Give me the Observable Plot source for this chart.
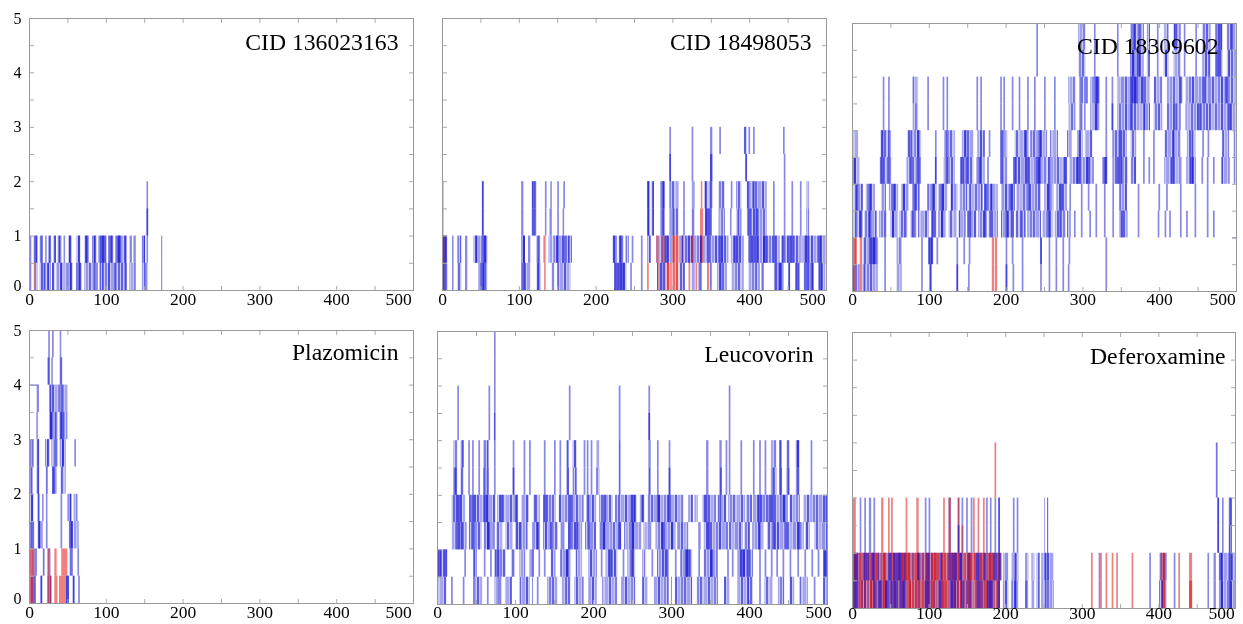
<!DOCTYPE html>
<html><head><meta charset="utf-8">
<script src="https://cdn.jsdelivr.net/npm/d3@7"></script>
<script src="https://cdn.jsdelivr.net/npm/@observablehq/plot@0.6"></script>
<style>html,body{margin:0;background:#fff}#c{position:relative;width:1243px;height:624px;overflow:hidden}#c svg.plot{position:absolute;overflow:visible;background:none;filter:blur(.6px)}#defs{position:absolute;width:0;height:0}</style>
</head><body><div id="c"></div>
<script>
// Each array: frames (single number) or frame runs [from,to] occupied in one half-unit band of the y axis.
// pNbK = panel N, band K (K*0.5 .. K*0.5+0.5); L blue, D dark blue, R red, P pale red.
const titles=["CID 136023163","CID 18498053","CID 18309602","Plazomicin","Leucovorin","Deferoxamine"];
const xTickLabels=[0,100,200,300,400];
const yTickLabels=[1,2,3,4,5];

const p1b0L=[[1,3],[6,11],[14,28],[30,33],[35,57],[61,69],[72,90],[92,127],[131,139],[147,154],[172,173.5]];
const p1b0D=[19,24,30,41,53,64,84,95,111,120,125,[150,151],[152,153]];
const p1b0R=[[7,9]];
const p1b1L=[[1,3],[6,11],[14,18],[21,23],[25,29],[32,35],[37,42],[45,47],[51,56],[62,67],[72,78],[82,88],[90,101],[103,110],[112,127],[131,134],[136,139],[147,151],[153,155],[172,173.5]];
const p1b1D=[[7,10],15,[26,28],33,39,[52,54],[64,66],[74,77],84,[92,100],[105,108],[114,120],[124,127],149];
const p1b2L=[[153,155]];
const p1b2D=[[0,1.2],153];
const p1b3L=[[153,155]];

const p2b0L=[[0,7],[13,15],[20,25],[30,33],[47,59],[103,115],[123,128],[143,146],[150,167],[224,240],245,259,[280,291],[309,316],[325,329],[358,371],[377,393],[399,414],[432,445],451,[460,466],[471,484],[490,499]];
const p2b0D=[[1,6],[50,52],[53,57],[105,108],[124,127],[226,238],[284,287],314,334,336,349,[361,364],[416,419],[433,436],[438,443],451,[462,465],[474,478],[480,483],[491,495]];
const p2b0R=[[1,3],[133,135],267,[280,282],321,330,[345,348]];
const p2b0P=[[291,308]];
const p2b1L=[[0,7],[13,15],[20,25],[30,33],[41,59],[103,108],[112,115],[123,128],[139,144],[145,169],[222,228],[230,236],[239,243],247,259,[267,272],[279,302],[309,373],[376,393],[399,440],[443,500]];
const p2b1D=[[1,6],[44,46],[53,58],[105,108],[124,127],[149,152],[156,160],[164,166],[223,226],[232,235],[270,271],[290,294],[312,314],[320,323],[336,338],[345,348],[360,366],[380,386],[401,412],[418,424],[432,436],[442,446],[452,458],[472,478],[490,494]];
const p2b1R=[[1,5],[132,135],[279,282],[287,290],[300,303],[312,314],[324,328],[336,340]];
const p2b1P=[[302,309]];
const p2b2L=[52,[103,106],[117,123],[134,136],[140,143],150,[157,159],[267,271],[273,276],[284,290],[296,308],314,[325,329],[342,351],[360,368],[375,377],[383,390],[397,423],431,445,455,466,[474,478]];
const p2b2D=[52,[118,122],[268,270],[274,276],[286,289],[300,302],[343,351],[385,387],[398,402],[408,412]];
const p2b2R=[[0,2],[336,340]];
const p2b3L=[52,[103,106],[117,123],134,[141,143],150,158,[267,271],[273,276],[284,290],[296,308],314,[325,329],[342,351],[360,368],376,[383,390],[397,423],431,445,455,466,[474,478]];
const p2b3D=[52,[118,122],[268,270],[274,276],[286,289],[342,344],[349,352],[398,400],[405,407]];
const p2b3R=[[0,2],[337,339]];
const p2b4L=[296,325,[349,352],[395,397],445];
const p2b4D=[296,[349,352],395];
const p2b5L=[296,325,[349,352],361,[393,397],399,405,444];

const p3b0L=[[0,10],[14,34],42,[58,65],90,[101,104],136,151,200,209,221,245,256,265,274,281,330];
const p3b0D=[[2,3],[15,17],[101,103],136,200];
const p3b0R=[[0,4],[10,13],[182,185],[186,189]];
const p3b1L=[[0,3],[14,34],42,[58,65],90,[99,106],110,136,145,152,200,208,221,245,256,265,274,282,330];
const p3b1D=[[22,32],[100,104],245];
const p3b1R=[[3,6],[3,6],[10,13],[182,185],[186,189]];
const p3b2L=[[0,14],[16,32],[35,45],[50,60],[62,72],[76,84],[86,100],[103,110],[112,122],[126,136],[140,148],[150,162],[164,176],[178,190],[194,210],[213,226],[228,246],[248,262],[264,278],[280,285],289,298,309,317,328,339,[348,359],372,398,407,413,427,435,446,462,470];
const p3b2D=[[4,6],[10,13],[22,25],[52,55],[68,70],[78,81],[104,107],[116,119],[139,141],[152,155],[171,175],[179,181],[200,203],[207,211],[219,222],[255,258],[270,273],[350,353]];
const p3b3L=[[2,14],[18,30],[38,44],[48,60],[64,74],[78,88],[98,110],[112,124],[128,137],[140,150],[154,170],[172,190],[194,212],[214,228],[230,246],[250,262],[266,280],283,298,307,317,328,339,[348,358],372,399,409,427,446,462];
const p3b3D=[[5,8],[22,25],[53,56],[66,69],[80,84],[104,107],[116,120],[129,131],[152,155],[172,176],[181,183],[205,210],[228,231],[254,258],[270,274]];
const p3b4L=[[1,10],[36,51],[71,90],108,[119,134],[141,158],[162,173],176,[193,202],[210,254],[256,280],[283,315],[326,333],[339,359],[363,370],379,386,392,[407,429],[435,448],455,462,470,[481,492],497];
const p3b4D=[[2,5],[37,41],[46,49],[75,78],[84,88],[108,110],[122,125],[143,146],[148,152],[165,168],[194,197],[210,214],[225,230],[240,246],[255,258],[276,280],[293,298],[305,310],[328,331],[345,352],[415,419],[440,444]];
const p3b5L=[[1,8],[37,51],[72,90],108,[120,134],[143,158],[163,173],178,[193,202],[212,230],[232,254],[258,268],[280,286],[293,300],[303,313],330,[339,358],[363,370],379,392,[407,428],[436,447],456,463,[482,491],497];
const p3b5D=[[38,41],[47,49],[76,78],[85,88],[122,124],[146,149],[167,169],[195,197],[225,228],[243,246],[295,298],[347,352],[418,420],[442,444]];
const p3b6L=[40,47,[79,86],98,118,123,162,167,193,197,208,217,228,237,250,263,[282,291],296,302,[310,322],330,338,[345,388],[393,404],[410,428],[434,500]];
const p3b6D=[[298,300],[316,320],338,[362,365],[380,382],[421,423],[452,455],[465,467],[490,493]];
const p3b7L=[40,47,[79,86],98,118,123,162,167,193,197,208,217,228,237,250,263,[282,291],296,302,[310,322],330,338,[345,388],[393,404],[410,428],[434,500]];
const p3b7D=[[298,301],[304,307],[316,322],[362,372],[376,380],[426,430],[458,461],[486,490]];
const p3b8L=[240,[295,304],315,345,[362,380],[384,388],397,[406,412],[419,428],432,447,[456,467],[473,482],[488,500]];
const p3b8D=[[364,368],[371,375],[408,410],[464,466],[474,481],[490,492]];
const p3b9L=[240,[295,304],315,345,[362,380],[384,388],397,[406,412],[419,428],432,447,[456,467],[473,482],[488,500]];
const p3b9D=[[366,369],[373,376],[420,423],[476,481],[494,496]];

const p4b0L=[[1,6],15,[24,29],[48,52],57,64];
const p4b0D=[[6,9],15,[48,52],57];
const p4b0R=[[0,7],[24,29],[33,37],[39,48]];
const p4b1L=[[0,8],[24,28],63];
const p4b1D=[8,18,[53,57]];
const p4b1R=[[1,7],[24,27],[33,36],[42,50]];
const p4b2L=[[0,7],[11,18],22,41,[52,57],[58,65]];
const p4b2D=[[2,4],[13,15],[53,57]];
const p4b3L=[[1,6],[11,14],[17,19],[22,24],41,[50,55],[58,63]];
const p4b3D=[[3,5],[12,13],[53,55]];
const p4b4L=[[1,5],[10,13],[22,24],[30,36],[41,48]];
const p4b4D=[[2,4],11,[23,24],[32,34]];
const p4b5L=[[0,6],[10,13],[21,27],[29,37],[40,48],59];
const p4b5D=[[2,3],11,[24,25],[33,35],[43,45]];
const p4b6L=[[10,11],[26,37],[39,50]];
const p4b6D=[[10,11],[27,31],[34,36],[41,46]];
const p4b7L=[[10,13],[26,50]];
const p4b7D=[[27,29],[40,41],[44,45]];
const p4b8L=[[24,26],[29,31],[40,42]];
const p4b8D=[25,41];
const p4b9L=[25,30,[40,42]];

const p5b0L=[[0,12],18,33,[46,58],64,[74,83],[87,96],[106,119],128,[141,154],[160,171],[176,188],[194,205],[212,231],[236,254],[263,270],[278,297],[305,327],[333,360],[368,375],[385,405],413,[420,430],[437,445],[452,458],[465,475],483,[495,501]];
const p5b0D=[[47,48],[78,79],[122,123],[165,166],[300,301],[398,400]];
const p5b1L=[[0,13],35,[46,51],60,68,[74,88],[95,100],[106,113],[118,124],130,137,[146,152],[158,171],[178,186],[194,205],210,[216,231],238,[244,254],[263,267],275,[282,297],305,[312,327],335,[342,360],372,378,[385,405],413,420,428,435,443,452,462,471,480,488,[495,501]];
const p5b1D=[[1,5],[8,12],[47,49],[76,80],[122,124],[165,169],[220,225],[248,252],[292,296],[318,325],[350,354],[388,395],[397,402],[495,500]];
const p5b1R=[[0,2]];
const p5b2L=[[19,38],[41,57],[60,72],[76,84],[88,97],[100,116],[122,132],[136,155],[158,164],[168,186],[190,204],[208,236],[240,262],[265,275],[280,306],[308,322],[335,338],[342,370],[374,392],[394,401],[404,419],[423,445],[447,470],[472,478],[484,500]];
const p5b2D=[[25,27],[30,34],[44,48],[64,68],[72,74],[105,108],[128,131],[145,148],[168,172],[178,181],[193,196],[212,216],[232,236],[249,253],[288,292],[300,303],[345,350],[370,373],[412,415],[430,434],[445,449],[462,466]];
const p5b3L=[[19,36],[41,75],[77,104],[108,118],[125,132],[136,152],[156,188],[192,204],[208,225],[228,256],[260,266],[270,316],[322,328],[330,334],[340,358],[360,371],[373,395],[396,404],[405,450],[452,465],[470,500]];
const p5b3D=[[24,30],[44,50],[60,66],[80,84],[100,103],[124,126],[138,142],[170,174],[192,195],[213,217],[248,254],[262,264],[282,286],[296,300],[342,347],[362,364],[412,417],[425,432],[443,447],[498,500]];
const p5b4L=[[21,26],[30,34],40,45,53,[59,66],73,97,111,118,137,150,157,[166,169],[174,179],188,192,197,[204,208],[233,235],[271,274],282,297,[345,348],[362,365],370,374,389,405,413,420,[428,435],[439,442],[448,452],[460,465],479];
const p5b4D=[[22,24],[31,33],[60,62],[64,66],97,[167,169],[234,235],[272,273],297,[363,365],[430,433],[439,442],[449,451],[461,464]];
const p5b5L=[[21,26],[30,34],40,45,53,[59,66],73,97,111,118,137,150,157,[166,169],[174,179],188,192,197,[204,208],[233,235],[271,274],282,297,[345,348],[362,365],370,374,389,405,413,420,[428,435],[439,442],[448,452],[460,465],479];
const p5b5D=[32,[167,168],[234,235],[439,441],[461,464]];
const p5b6L=[26,66,[73,74],169,233,271,374];
const p5b6D=[73,271];
const p5b7L=[26,66,73,169,233,271,374];
const p5b8L=[73];
const p5b9L=[73];

const p6b0L=[[0,193],[197,204],[208,217],[226,230],[234,238],[241,245],[247,263],322,388,[401,411],420,464,[472,475],[479,500]];
const p6b0D=[[1,8],[16,18],[28,32],[34,39],[43,48],[50,53],[54,60],[62,70],[95,101],[113,117],[128,136],[142,146],[152,155],[163,168],[176,184],[190,193],[212,215],[226,228],[252,254],[404,406],[481,484],[492,496]];
const p6b0R=[[9,11],[24,27],[40,43],[73,77],[82,86],[95,102],[120,124],[133,136],[150,153],[172,176],[189,193],312,324,331,339,345,365,[404,409],[404,409],426,[440,444],[440,444]];
const p6b0P=[[0,193]];
const p6b1L=[[0,193],[197,204],[208,217],[226,230],[234,238],[241,245],[247,263],322,388,[401,411],420,464,[472,475],[479,500]];
const p6b1D=[[3,8],[15,17],[18,22],[26,29],[33,35],[47,52],[54,65],[68,70],[85,88],[97,101],[115,117],[126,129],[131,137],[140,144],[152,154],[162,167],[172,175],[184,189],[191,195],[212,214],[252,254],[480,483],[492,496]];
const p6b1R=[[1,8],[15,17],[24,29],[41,44],[60,63],[68,75],[83,89],[96,102],[106,113],[119,123],[130,137],[150,155],[170,172],[178,182],[191,195],312,324,331,339,345,365,[403,410],426,[440,444]];
const p6b1P=[[0,193]];
const p6b2L=[10,16,[22,25],28,95,100,[126,129],138,143,149,155,175,180,186,[191,193],210,215,[251,252],[255,256],477,483,492,[492,496]];
const p6b2D=[[191,193],138,[255,256],477];
const p6b2R=[[0,5],[38,41],47,51,70,[84,87],119,[126,129],138,143,158,164,171];
const p6b3L=[10,16,[22,25],28,95,100,[126,129],138,143,149,155,175,180,186,[191,193],210,215,[251,252],[255,256],477,483,492,[492,496]];
const p6b3D=[[191,193],[255,256],477];
const p6b3R=[[0,5],[38,41],47,51,70,[84,87],119,[126,129],138,158,164,171];
const p6b4D=[475];
const p6b4R=[186];
const p6b5D=[475];
const p6b5R=[186];

const steps3=[[1,495,500]];
const steps4=[[4,0,11],[3,0,6],[1,0,1]];

const panels=[
 {left:29,right:413,top:18,bottom:290,title:0,tdx:-15,tdy:24,y:true,ldy:-2,ldx5:-15,steps:[],bands:[[p1b0L,p1b0D,p1b0R],[p1b1L,p1b1D],[p1b2L,p1b2D],[p1b3L]]},
 {left:442,right:826,top:18,bottom:290,title:1,tdx:-15,tdy:24,ldy:-2,ldx5:-14,steps:[],bands:[[p2b0L,p2b0D,p2b0R,p2b0P],[p2b1L,p2b1D,p2b1R,p2b1P],[p2b2L,p2b2D,p2b2R],[p2b3L,p2b3D,p2b3R],[p2b4L,p2b4D],[p2b5L]]},
 {left:852,right:1236,top:23,bottom:291,title:2,tdx:-18,tdy:23,ldy:-3,ldx5:-14,steps:steps3,bands:[[p3b0L,p3b0D,p3b0R],[p3b1L,p3b1D,p3b1R],[p3b2L,p3b2D],[p3b3L,p3b3D],[p3b4L,p3b4D],[p3b5L,p3b5D],[p3b6L,p3b6D],[p3b7L,p3b7D],[p3b8L,p3b8D],[p3b9L,p3b9D]]},
 {left:29,right:413,top:330,bottom:603,title:3,tdx:-15,tdy:22,y:true,ldy:-2,ldx5:-15,steps:steps4,bands:[[p4b0L,p4b0D,p4b0R],[p4b1L,p4b1D,p4b1R],[p4b2L,p4b2D],[p4b3L,p4b3D],[p4b4L,p4b4D],[p4b5L,p4b5D],[p4b6L,p4b6D],[p4b7L,p4b7D],[p4b8L,p4b8D],[p4b9L]]},
 {left:437,right:827,top:331,bottom:604,title:4,tdx:-14,tdy:23,ldy:-3,ldx5:-9,steps:[],bands:[[p5b0L,p5b0D],[p5b1L,p5b1D,p5b1R],[p5b2L,p5b2D],[p5b3L,p5b3D],[p5b4L,p5b4D],[p5b5L,p5b5D],[p5b6L,p5b6D],[p5b7L],[p5b8L],[p5b9L]]},
 {left:852,right:1235,top:332,bottom:608,title:5,tdx:-10,tdy:24,ldy:-6,ldx5:-14,steps:[],bands:[[p6b0L,p6b0D,p6b0R,p6b0P],[p6b1L,p6b1D,p6b1R,p6b1P],[p6b2L,p6b2D,p6b2R],[p6b3L,p6b3D,p6b3R],[[],p6b4D,p6b4R],[[],p6b5D,p6b5R]]}
];

// line-texture fills for dense runs: [offset,width,opacity] stripes in px
const stripeA=[[0,2,.3],[3,2,.6],[6,2,.15],[9,3,.35],[13,2,.65],[16,2,.2],[19,2,.45],[22,2,.75],[25,3,.25]];
const stripeB=[[0,3,.2],[4,2,.65],[7,2,.2],[10,2,.45],[13,2,.6],[16,3,.25],[20,2,.7],[23,2,.2],[26,2,.4],[29,2,.6]];
const stripeC=[[0,2,.65],[3,2,.25],[6,2,.15],[9,2,.55],[12,2,.3],[15,2,.72],[18,2,.25],[21,2,.45]];
const BLUE="#2626d2",RED="#e01818",SERIF="Liberation Serif";
const stripes=[stripeA,stripeB,stripeC];
const tile=[29,33,24];
const root=document.getElementById("c");
const defsHtml=["b","r"].map((h,i)=>stripes.map((s,j)=>`<pattern id="${h}${j}" patternUnits="userSpaceOnUse" width="${tile[j]}" height="8">`+s.map(t=>`<rect x="${t[0]}" y="0" width="${t[1]}" height="8" fill="${i?RED:BLUE}" fill-opacity="${t[2]}"/>`).join("")+"</pattern>").join("")).join("");
root.insertAdjacentHTML("beforeend",`<svg id="defs"><defs>${defsHtml}</defs></svg>`);

const ml=30,mr=6,mt=6,mb=26;
const rows=(band,k)=>(band||[]).map(v=>Array.isArray(v)?{x1:v[0],x2:v[1],y1:k/2,y2:k/2+.5,k}:{x1:v,x2:v+2.2,y1:k/2,y2:k/2+.5,k});
const wide=d=>d.x2-d.x1>=4;
const box={x1:"x1",x2:"x2",y1:"y1",y2:"y2"};
const halfTicks=d3.range(0,5.01,.5), fiftyTicks=d3.range(0,501,50);
const lab={tickSize:0,tickPadding:4,label:null,fontFamily:SERIF,fill:"#000",tickFormat:d=>String(d)};
panels.forEach((p,pi)=>{
  const L=p.bands.flatMap((b,k)=>rows(b[0],k));
  const D=p.bands.flatMap((b,k)=>rows(b[1],k));
  const R=p.bands.flatMap((b,k)=>rows(b[2],k));
  const P=p.bands.flatMap((b,k)=>rows(b[3],k));
  const marks=[
    Plot.rect(L.filter(d=>wide(d)),{...box,fill:BLUE,fillOpacity:.26}),
    ...[0,1,2].map(j=>Plot.rect(L.filter(d=>wide(d)&&(d.k+pi)%3===j),{...box,fill:`url(#b${j})`})),
    Plot.rect(L.filter(d=>!wide(d)),{...box,fill:BLUE,fillOpacity:.55}),
    Plot.rect(P,{...box,fill:RED,fillOpacity:.3}),
    ...[0,1,2].map(j=>Plot.rect(P.filter(d=>(d.k+pi+1)%3===j),{...box,fill:`url(#r${j})`})),
    Plot.rect(R,{...box,fill:RED,fillOpacity:.55}),
    Plot.rect(D,{...box,fill:"#1414d8",fillOpacity:.6}),
    Plot.ruleY(p.steps,{y:d=>d[0],x1:d=>d[1],x2:d=>d[2],stroke:"#5a5ad8",strokeWidth:1}),
    Plot.axisX({anchor:"bottom",ticks:fiftyTicks,tickSize:-4,tickFormat:()=>"",stroke:"#aaa",label:null}),
    Plot.axisX({anchor:"top",ticks:fiftyTicks,tickSize:-4,tickFormat:()=>"",stroke:"#aaa",label:null}),
    Plot.axisY({anchor:"left",ticks:halfTicks,tickSize:-5,tickFormat:()=>"",stroke:"#aaa",label:null}),
    Plot.axisY({anchor:"right",ticks:halfTicks,tickSize:-5,tickFormat:()=>"",stroke:"#aaa",label:null}),
    Plot.frame({stroke:"#999",strokeWidth:1}),
    Plot.axisX({...lab,anchor:"bottom",ticks:xTickLabels,dy:p.ldy,fontSize:17.5}),
    Plot.axisX({...lab,anchor:"bottom",ticks:[500],dx:p.ldx5,dy:p.ldy,fontSize:17.5}),
    Plot.text([titles[p.title]],{frameAnchor:"top-right",dx:p.tdx,dy:p.tdy,lineAnchor:"middle",textAnchor:"end",fontSize:23.7,fontFamily:SERIF,fill:"#000",text:d=>d})
  ];
  if(p.y){
    marks.push(Plot.axisY({...lab,anchor:"left",ticks:yTickLabels,tickPadding:8,fontSize:16}));
    marks.push(Plot.axisY({...lab,anchor:"left",ticks:[0],tickPadding:8,dy:-5,fontSize:16}));
  }
  const svg=Plot.plot({
    width:p.right-p.left+ml+mr,height:p.bottom-p.top+mt+mb,
    marginLeft:ml,marginRight:mr,marginTop:mt,marginBottom:mb,
    x:{domain:[0,500]},y:{domain:[0,5]},
    style:{background:"none"},
    marks
  });
  svg.classList.add("plot");
  svg.style.left=(p.left-ml)+"px";svg.style.top=(p.top-mt)+"px";
  root.appendChild(svg);
});
</script></body></html>
